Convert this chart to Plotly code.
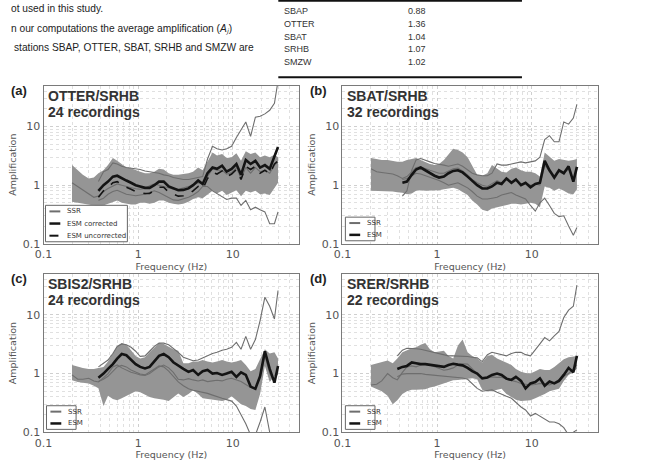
import plotly.graph_objects as go

W, H = 665, 460

# ---------------- data ----------------
F = [0.2, 0.23, 0.26, 0.3, 0.34, 0.38, 0.43, 0.48, 0.54, 0.6,
     0.67, 0.75, 0.84, 0.94, 1.05, 1.18, 1.32, 1.48, 1.66, 1.86,
     2.1, 2.35, 2.65, 3.0, 3.4, 3.8, 4.3, 4.8, 5.4, 6.1,
     6.8, 7.7, 8.6, 9.7, 10.9, 12.2, 13.7, 15.4, 17.3, 19.4,
     21.8, 24.5, 27.5, 30]
N = None

# (a) OTTER/SRHB
a_band_hi = [2.2, 1.8, 1.5, 1.3, 1.35, 1.6, 1.8, 2.2, 2.9, 2.6,
             2.3, 2.0, 1.95, 1.8, 1.7, 1.6, 1.6, 1.7, 1.9, 1.85,
             1.6, 1.5, 1.5, 1.55, 1.6, 1.7, 2.0, 1.8, 2.6, 3.6,
             3.2, 3.4, 2.9, 3.0, 3.5, 2.6, 3.8, 3.4, 3.6, 3.0,
             3.2, 3.0, 3.3, 3.0]
a_band_lo = [0.52, 0.5, 0.48, 0.47, 0.45, 0.42, 0.45, 0.48, 0.52, 0.55,
             0.5, 0.48, 0.47, 0.47, 0.5, 0.5, 0.48, 0.5, 0.55, 0.55,
             0.5, 0.48, 0.47, 0.48, 0.52, 0.58, 0.62, 0.6, 0.7, 0.8,
             0.72, 0.8, 0.68, 0.75, 0.82, 0.65, 0.8, 0.75, 0.8, 0.7,
             0.72, 0.68, 0.9, 1.1]
a_esm = [N, N, N, N, N, 0.8, 1.0, 1.15, 1.4, 1.45,
         1.3, 1.2, 1.1, 1.0, 0.95, 0.9, 0.9, 1.0, 1.15, 1.15,
         0.95, 0.88, 0.82, 0.83, 0.88, 1.0, 1.2, 1.05, 1.6, 2.0,
         1.9, 2.15, 1.7, 1.9, 2.3, 1.5, 2.7, 2.3, 2.6, 2.0,
         2.2, 1.9, 3.0, 4.5]
a_esm_unc = [N, N, N, N, N, 0.62, 0.8, 0.92, 1.1, 1.15,
             1.02, 0.92, 0.85, 0.78, 0.75, 0.72, 0.72, 0.8, 0.92, 0.92,
             0.76, 0.7, 0.65, 0.66, 0.7, 0.8, 0.95, 0.85, 1.3, 1.65,
             1.55, 1.75, 1.4, 1.55, 1.85, 1.25, 2.1, 1.85, 2.1, 1.6,
             1.8, 1.55, 2.3, 2.6]
a_ssr = [1.1, 0.95, 0.85, 0.72, 0.62, 0.65, 0.78, 0.88, 0.98, 1.05,
         1.0, 0.95, 0.9, 0.87, 0.85, 0.88, 0.98, 1.05, 1.0, 0.95,
         0.9, 0.85, 0.85, 0.9, 0.95, 1.0, 1.1, 1.05, 1.4, 1.9,
         1.8, 1.8, 1.55, 1.65, 2.0, 1.3, 2.0, 1.6, 2.0, 1.7,
         1.8, 1.6, 2.2, 2.5]
a_ssr_hi = [N, N, N, N, N, 1.15, 1.7, 1.85, 2.4, 2.3,
            2.1, 2.0, 1.95, 1.95, 1.85, 1.75, 1.7, 1.65, 1.6, 1.5,
            1.45, 1.35, 1.3, 1.25, 1.25, 1.3, 1.35, 1.4, 2.8, 4.6,
            4.2, 4.0, 4.2, 4.6, 6.5, 9.0, 12.0, 6.8, 14.5, 15.0,
            16.5, 19.0, 25.0, 60.0]
a_ssr_lo = [N, N, N, N, N, 0.55, 0.6, 0.7, 0.78, 0.82,
            0.75, 0.7, 0.68, 0.66, 0.68, 0.7, 0.75, 0.8, 0.75, 0.68,
            0.6, 0.56, 0.55, 0.58, 0.62, 0.68, 0.78, 0.95, 0.95, 0.8,
            0.72, 0.65, 0.57, 0.6, 0.6, 0.45, 0.55, 0.38, 0.42, 0.38,
            0.35, 0.22, 0.22, 0.35]

# (b) SBAT/SRHB
b_band_hi = [2.9, 2.8, 2.7, 2.7, 2.6, 2.5, 2.5, 2.7, 2.8, 2.9,
             2.7, 2.5, 2.3, 2.2, 2.3, 2.7, 3.3, 4.2, 4.0, 3.6,
             3.0, 2.1, 1.5, 1.45, 1.6, 2.2, 1.9, 1.7, 1.65, 1.9,
             2.0, 1.8, 1.7, 1.7, 1.6, 1.4, 3.6, 3.0, 2.6, 2.8,
             2.7, 2.6, 2.7, 2.8]
b_band_lo = [0.8, 0.8, 0.8, 0.8, 0.78, 0.76, 0.74, 0.7, 0.72, 0.8,
             0.82, 0.8, 0.8, 0.8, 0.82, 0.85, 0.88, 0.9, 0.85, 0.75,
             0.68, 0.55, 0.47, 0.38, 0.36, 0.4, 0.42, 0.43, 0.46, 0.48,
             0.48, 0.47, 0.48, 0.5, 0.48, 0.42, 0.95, 0.9, 0.8, 0.88,
             0.8, 0.72, 0.7, 0.85]
b_esm = [N, N, N, N, N, N, 1.1, 1.15, 1.5, 1.85,
         2.0, 1.8, 1.6, 1.45, 1.35, 1.4, 1.6, 1.75, 1.8, 1.65,
         1.4, 1.2, 1.0, 0.88, 0.88, 0.95, 1.1, 1.05, 1.3, 1.1,
         1.25, 1.0, 1.1, 0.92, 1.05, 1.1, 2.6, 1.8, 1.35, 1.8,
         1.6, 2.1, 1.15, 2.05]
b_ssr = [1.9, 1.7, 1.65, 1.6, 1.55, 1.45, 1.3, 1.4, 1.7, 2.0,
         2.05, 1.9, 1.8, 1.7, 1.6, 1.6, 1.75, 1.9, 1.95, 1.75,
         1.5, 1.25, 1.1, 1.0, 0.95, 1.05, 1.2, 1.1, 1.25, 1.15,
         1.2, 1.05, 1.1, 1.0, 1.05, 1.0, 2.2, 1.7, 1.4, 1.7,
         1.55, 1.9, 1.2, 1.9]
b_ssr_hi = [N, N, N, N, N, N, 0.65, 0.8, 1.8, 2.7,
            2.85, 2.7, 2.5, 2.35, 2.3, 2.2, 2.1, 2.2, 2.3, 2.1,
            1.8, 1.6, 1.5, 1.45, 1.45, 1.6, 2.3, 2.2, 2.2, 2.3,
            2.4, 2.5, 2.4, 2.5, 2.6, 3.0, 6.0, 7.0, 5.5, 5.5,
            12.0, 11.0, 14.0, 24.0]
b_ssr_lo = [N, N, N, N, N, N, 1.25, 1.3, 1.45, 1.6,
            1.55, 1.45, 1.35, 1.3, 1.2, 1.1, 1.0, 1.05, 1.1, 1.0,
            0.9, 0.78, 0.65, 0.58, 0.58, 0.6, 0.62, 0.68, 0.72, 0.75,
            0.68, 0.62, 0.58, 0.45, 0.36, 0.5, 0.6, 0.45, 0.33, 0.29,
            0.3, 0.2, 0.14, 0.19]

# (c) SBIS2/SRHB
c_band_hi = [1.4, 1.3, 1.25, 1.2, 1.2, 1.25, 1.3, 1.6, 2.2, 2.9,
             3.3, 3.1, 2.5, 2.0, 1.8, 1.9, 2.3, 2.8, 3.3, 3.2,
             2.9, 2.6, 2.45, 1.5, 1.5, 1.6, 1.6, 1.7, 1.6, 1.55,
             1.6, 1.7, 1.6, 1.55, 1.6, 1.7, 1.4, 1.1, 1.2, 1.8,
             2.6, 2.2, 2.3, 1.8]
c_band_lo = [0.77, 0.72, 0.7, 0.68, 0.62, 0.56, 0.28, 0.42, 0.37, 0.35,
             0.38, 0.42, 0.46, 0.5, 0.48, 0.43, 0.4, 0.38, 0.37, 0.36,
             0.34, 0.4, 0.46, 0.4, 0.45, 0.52, 0.45, 0.38, 0.37, 0.36,
             0.35, 0.34, 0.36, 0.41, 0.35, 0.3, 0.28, 0.25, 0.24, 0.45,
             1.35, 0.72, 0.9, 0.95]
c_esm = [N, N, N, N, N, 0.85, 1.0, 1.2, 1.45, 1.8,
         2.15, 2.05, 1.75, 1.45, 1.3, 1.22, 1.3, 1.6, 2.0, 2.15,
         1.9, 1.56, 1.35, 1.2, 1.07, 1.15, 0.95, 1.1, 1.15, 1.0,
         1.02, 0.95, 1.0, 1.07, 0.88, 1.05, 0.95, 0.6, 0.55, 0.9,
         2.4, 1.2, 0.7, 1.35]
c_ssr = [0.95, 0.8, 0.8, 0.83, 0.75, 0.72, 0.85, 1.0, 1.3, 1.4,
         1.25, 1.15, 1.05, 1.0, 0.95, 0.93, 1.0, 1.15, 1.3, 1.4,
         1.25, 1.05, 0.8, 0.78, 0.82, 0.78, 0.75, 0.78, 0.73, 0.75,
         0.77, 0.75, 0.8, 0.83, 0.78, 0.73, 0.65, 0.58, 0.56, 0.85,
         2.0, 1.0, 0.75, 1.25]
c_ssr_hi = [N, N, N, N, N, 1.3, 1.5, 1.7, 2.2, 2.9,
            3.2, 3.1, 2.8, 2.4, 1.95, 2.0, 2.4, 2.9, 3.3, 3.3,
            3.1, 2.7, 2.3, 1.9, 1.75, 1.65, 1.7, 1.85, 2.0, 2.2,
            2.3, 2.5, 2.6, 2.8, 3.4, 2.6, 4.3, 2.6, 3.8, 8.0,
            20.0, 14.0, 8.5, 26.0]
c_ssr_lo = [N, N, N, N, N, 0.73, 0.8, 0.9, 1.1, 1.3,
            1.38, 1.3, 1.15, 1.05, 0.98, 0.95, 1.05, 1.2, 1.35, 1.3,
            1.1, 0.9, 0.72, 0.62, 0.55, 0.52, 0.5, 0.48, 0.46, 0.43,
            0.4, 0.38, 0.36, 0.34, 0.28, 0.2, 0.14, 0.09, 0.09, 0.15,
            0.27, 0.1, 0.07, 0.06]

# (d) SRER/SRHB
d_band_hi = [1.4, 1.5, 1.6, 1.67, 1.5, 1.8, 2.3, 2.5, 2.7, 2.8,
             3.1, 3.3, 2.6, 2.3, 2.4, 2.45, 2.0, 1.8, 3.0, 3.8,
             2.3, 2.0, 1.8, 1.55, 2.0, 2.1, 1.8, 1.65, 1.5, 1.4,
             1.2, 1.07, 1.02, 1.0, 1.1, 1.2, 1.15, 1.15, 1.3, 1.5,
             1.75, 1.9, 1.95, 2.0]
d_band_lo = [0.6, 0.55, 0.5, 0.42, 0.3, 0.35, 0.45, 0.5, 0.53, 0.53,
             0.53, 0.54, 0.58, 0.6, 0.64, 0.68, 0.72, 0.77, 0.78, 0.8,
             0.82, 0.83, 0.8, 0.53, 0.5, 0.5, 0.53, 0.55, 0.45, 0.4,
             0.36, 0.34, 0.34, 0.35, 0.38, 0.41, 0.45, 0.5, 0.52, 0.55,
             0.75, 0.95, 1.05, 1.2]
d_esm = [N, N, N, N, N, 1.2, 1.3, 1.35, 1.55, 1.5,
         1.45, 1.45, 1.42, 1.38, 1.33, 1.3, 1.4, 1.47, 1.42, 1.38,
         1.25, 1.1, 1.0, 0.83, 0.86, 0.95, 1.0, 0.95, 0.82, 0.78,
         0.88, 0.75, 0.56, 0.68, 0.72, 0.83, 0.62, 0.73, 0.68, 0.75,
         0.95, 1.25, 1.05, 2.0]
d_ssr = [0.64, 0.66, 0.75, 1.0, 0.85, 0.78, 1.05, 1.3, 1.35, 1.3,
         1.4, 1.47, 1.4, 1.3, 1.2, 1.14, 1.18, 1.25, 1.4, 1.47,
         1.45, 1.2, 1.0, 0.85, 0.86, 0.88, 0.86, 0.87, 0.8, 0.77,
         0.73, 0.68, 0.66, 0.64, 0.65, 0.68, 0.66, 0.64, 0.7, 0.8,
         0.9, 1.0, 1.2, 1.4]
d_ssr_hi = [N, N, N, N, N, 2.0, 2.5, 2.7, 2.7, 2.65,
            2.6, 2.5, 2.4, 2.3, 2.2, 2.1, 2.0, 2.0, 2.0, 2.0,
            1.95, 1.9, 1.85, 1.6, 2.1, 2.3, 2.2, 2.1, 2.0, 2.2,
            2.3, 2.3, 2.1, 2.0, 2.6, 3.2, 4.1, 3.6, 4.4, 5.2,
            9.0, 12.0, 14.0, 32.0]
d_ssr_lo = [N, N, N, N, N, 0.88, 0.98, 1.0, 1.0, 1.0,
            1.0, 0.97, 0.95, 0.93, 0.92, 0.9, 0.88, 0.88, 0.86, 0.84,
            0.8, 0.68, 0.56, 0.5, 0.52, 0.53, 0.48, 0.44, 0.41, 0.38,
            0.32, 0.27, 0.24, 0.19, 0.21, 0.19, 0.17, 0.15, 0.15, 0.14,
            0.12, 0.09, 0.1, 0.11]

panel_titles = ["OTTER/SRHB", "SBAT/SRHB", "SBIS2/SRHB", "SRER/SRHB"]
panel_counts = ["24 recordings", "32 recordings", "24 recordings", "22 recordings"]
panel_tags = ["(a)", "(b)", "(c)", "(d)"]

table_stations = ["SBAP", "OTTER", "SBAT", "SRHB", "SMZW"]
table_values = ["0.88", "1.36", "1.04", "1.07", "1.02"]

x_tick_vals = [0.1, 1, 10]
x_tick_text = ["0.1", "1", "10"]
y_tick_vals = [0.1, 1, 10]
y_tick_text = ["0.1", "1", "10"]
minor_vals = [0.2, 0.3, 0.4, 0.5, 0.6, 0.7, 0.8, 0.9,
              2, 3, 4, 5, 6, 7, 8, 9, 20, 30, 40, 50]

# ---------------- styling ----------------
BAND = "#959595"
SSRC = "#6e6e6e"
ESMC = "#141414"
GRID = "#cfcfcf"
GRID_MINOR = "#e0e0e0"
FRAME = "#7a7a7a"
TICKF = dict(family="DejaVu Sans", size=11, color="#555555")
TITLEF = dict(family="DejaVu Sans", size=9.5, color="#555555")


def px(x):
    return x / W


def py(y):
    return 1 - y / H


# panel plot-area pixel boxes: x0, x1, ytop, ybottom
boxes = [(35, 294, 87, 247.5), (338, 597, 87, 247.5),
         (35, 294, 278, 439), (338, 597, 278, 439)]

panels = [
    (a_band_lo, a_band_hi, a_ssr, a_ssr_hi, a_ssr_lo, a_esm, a_esm_unc),
    (b_band_lo, b_band_hi, b_ssr, b_ssr_hi, b_ssr_lo, b_esm, None),
    (c_band_lo, c_band_hi, c_ssr, c_ssr_hi, c_ssr_lo, c_esm, None),
    (d_band_lo, d_band_hi, d_ssr, d_ssr_hi, d_ssr_lo, d_esm, None),
]

fig = go.Figure()
layout = {}
annotations = []
shapes = []

for i, (blo, bhi, ssr, shi, slo, esm, unc) in enumerate(panels):
    n = "" if i == 0 else str(i + 1)
    xa, ya = "x" + n, "y" + n
    common = dict(xaxis=xa, yaxis=ya, showlegend=False, hoverinfo="skip")
    fig.add_trace(go.Scatter(x=F, y=blo, mode="lines", line=dict(width=0, color=BAND), **common))
    fig.add_trace(go.Scatter(x=F, y=bhi, mode="lines", line=dict(width=0, color=BAND),
                             fill="tonexty", fillcolor=BAND, **common))
    for s in (shi, slo, ssr):
        fig.add_trace(go.Scatter(x=F, y=s, mode="lines", line=dict(width=1.1, color=SSRC), **common))
    if unc is not None:
        fig.add_trace(go.Scatter(x=F, y=unc, mode="lines",
                                 line=dict(width=1.6, color=ESMC, dash="dash"), **common))
    fig.add_trace(go.Scatter(x=F, y=esm, mode="lines", line=dict(width=2.6, color=ESMC), **common))

    x0, x1, yt, yb = boxes[i]
    axis_common = dict(type="log", range=[-1, 1.699], showline=True, mirror=True,
                       linecolor=FRAME, linewidth=1, showgrid=True, gridcolor=GRID,
                       griddash="dot", gridwidth=1, ticks="", zeroline=False,
                       tickfont=TICKF,
                       minor=dict(tickvals=minor_vals, showgrid=True, gridcolor=GRID_MINOR,
                                  griddash="dot", gridwidth=1, ticks=""))
    layout["xaxis" + n] = dict(axis_common, domain=[px(x0), px(x1)], anchor=ya,
                               tickvals=x_tick_vals, ticktext=x_tick_text,
                               title=dict(text="Frequency (Hz)", font=TITLEF, standoff=2))
    layout["yaxis" + n] = dict(axis_common, domain=[py(yb), py(yt)], anchor=xa,
                               tickvals=y_tick_vals, ticktext=y_tick_text,
                               title=dict(text="Amplification", font=TITLEF, standoff=4))

    # panel title texts
    annotations.append(dict(xref="paper", yref="paper", x=px(x0 + 3), y=py(yt + 10),
                            xanchor="left", yanchor="middle", showarrow=False,
                            text="<b>%s</b>" % panel_titles[i],
                            font=dict(family="Liberation Sans", size=14, color="#333333")))
    annotations.append(dict(xref="paper", yref="paper", x=px(x0 + 3), y=py(yt + 27),
                            xanchor="left", yanchor="middle", showarrow=False,
                            text="<b>%s</b>" % panel_counts[i],
                            font=dict(family="Liberation Sans", size=14, color="#333333")))
    annotations.append(dict(xref="paper", yref="paper", x=px(x0 - 35), y=py(yt + 5),
                            xanchor="left", yanchor="middle", showarrow=False,
                            text="<b>%s</b>" % panel_tags[i],
                            font=dict(family="Liberation Sans", size=13, color="#222222")))

    # legend box
    if i == 0:
        lb = (x0 + 2, x0 + 85, yb - 39, yb - 2)
        items = [("SSR", SSRC, "solid", 2), ("ESM corrected", ESMC, "solid", 2.5),
                 ("ESM uncorrected", ESMC, "dash", 2)]
    else:
        lb = (x0 + 3, x0 + 33, yb - 27, yb - 3)
        items = [("SSR", SSRC, "solid", 2), ("ESM", ESMC, "solid", 2.5)]
    shapes.append(dict(type="rect", xref="paper", yref="paper", layer="above",
                       x0=px(lb[0]), x1=px(lb[1]), y0=py(lb[3]), y1=py(lb[2]),
                       fillcolor="white", line=dict(color="#666666", width=1)))
    step = (lb[3] - lb[2]) / len(items)
    for k, (lab, col, dash, wd) in enumerate(items):
        yy = lb[2] + step * (k + 0.5)
        shapes.append(dict(type="line", xref="paper", yref="paper", layer="above",
                           x0=px(lb[0] + 4), x1=px(lb[0] + 15), y0=py(yy), y1=py(yy),
                           line=dict(color=col, width=wd, dash=dash)))
        annotations.append(dict(xref="paper", yref="paper", x=px(lb[0] + 20), y=py(yy),
                                xanchor="left", yanchor="middle", showarrow=False, text=lab,
                                font=dict(family="DejaVu Sans", size=7, color="#333333")))

# ---------------- page text and table ----------------
body = dict(family="Liberation Sans", size=10.2, color="#222222")
page_lines = [("ot used in this study.", 0, 9),
              ("n our computations the average amplification (<i>A\u2c7c</i>)", 0, 29),
              ("stations SBAP, OTTER, SBAT, SRHB and SMZW are", 3, 48)]
for txt, xx, yy in page_lines:
    annotations.append(dict(xref="paper", yref="paper", x=px(xx), y=py(yy), xanchor="left",
                            yanchor="middle", showarrow=False, text=txt, font=body))

tbl = dict(family="Liberation Sans", size=9, color="#333333")
for k, (st, v) in enumerate(zip(table_stations, table_values)):
    yy = 11.5 + k * 12.8
    annotations.append(dict(xref="paper", yref="paper", x=px(277), y=py(yy), xanchor="left",
                            yanchor="middle", showarrow=False, text=st, font=tbl))
    annotations.append(dict(xref="paper", yref="paper", x=px(402), y=py(yy), xanchor="left",
                            yanchor="middle", showarrow=False, text=v, font=tbl))
for yy in (0.8, 78.5):
    shapes.append(dict(type="line", xref="paper", yref="paper", x0=px(273), x1=px(520),
                       y0=py(yy), y1=py(yy), line=dict(color="#111111", width=2)))

fig.update_layout(width=W, height=H, margin=dict(l=0, r=0, t=0, b=0), autosize=False,
                  paper_bgcolor="white", plot_bgcolor="white",
                  annotations=annotations, shapes=shapes, **layout)

fig.write_html("out.html")
